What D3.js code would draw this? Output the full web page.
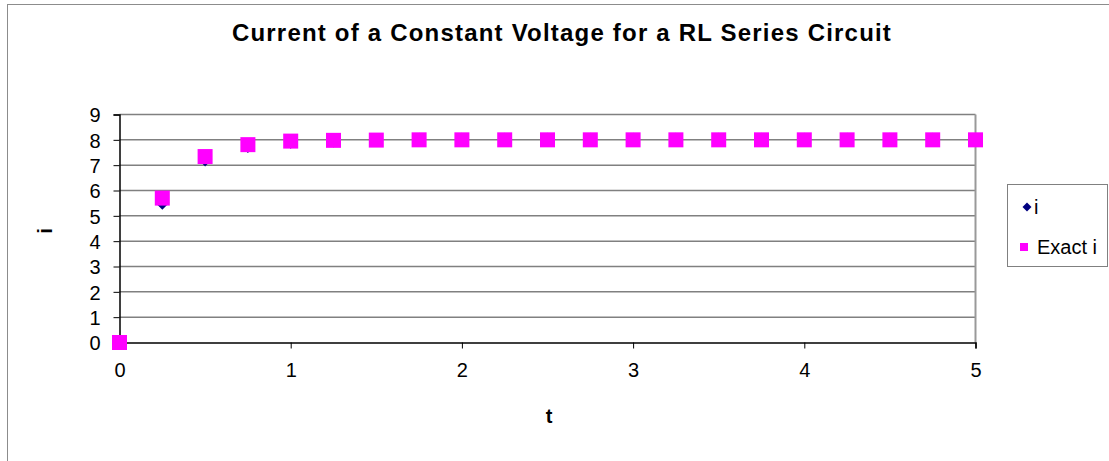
<!DOCTYPE html>
<html>
<head>
<meta charset="utf-8">
<script src="https://cdn.jsdelivr.net/npm/d3@7"></script>
<style>
  body { margin: 0; background: #fff; }
  text { font-family: "Liberation Sans", Arial, sans-serif; }
</style>
</head>
<body>
<script>
// data
const tValues = [0, 0.25, 0.5, 0.75, 1, 1.25, 1.5, 1.75, 2, 2.25, 2.5, 2.75, 3, 3.25, 3.5, 3.75, 4, 4.25, 4.5, 4.75, 5];
const iValues = [0, 5.52, 7.22, 7.76, 7.92, 7.97, 7.99, 8, 8, 8, 8, 8, 8, 8, 8, 8, 8, 8, 8, 8, 8];
const exactValues = [0, 5.7, 7.34, 7.81, 7.95, 7.98, 7.99, 8, 8, 8, 8, 8, 8, 8, 8, 8, 8, 8, 8, 8, 8];
const xTicks = [0, 1, 2, 3, 4, 5];
const yTicks = [0, 1, 2, 3, 4, 5, 6, 7, 8, 9];
const seriesNames = ["i", "Exact i"];

let width = 1109;
let height = 461;
let marginTop = 114.5;
let marginLeft = 119.5;
let chartWidth = 856;
let chartHeight = 228;

const svg = d3.select("body")
    .append("svg")
    .attr("width", width)
    .attr("height", height);

// outer chart border (cut off on the right and bottom)
svg.append("rect")
    .attr("x", 7.5).attr("y", 4.5)
    .attr("width", 1200).attr("height", 600)
    .attr("fill", "none").attr("stroke", "#8c8c8c");

svg.append("text")
    .attr("x", 562).attr("y", 41)
    .attr("text-anchor", "middle")
    .style("font-size", "24px").style("font-weight", "bold")
    .style("letter-spacing", "1.2px")
    .text("Current of a Constant Voltage for a RL Series Circuit");

const xScale = d3.scaleLinear().domain([0, 5]).range([0, chartWidth]);
const yScale = d3.scaleLinear().domain([0, 9]).range([chartHeight, 0]);

const g = svg.append("g")
    .attr("transform", "translate(" + marginLeft + "," + marginTop + ")");

// gridlines
g.selectAll(".grid")
    .data(yTicks.slice(1))
    .join("line")
    .attr("x1", 0).attr("x2", chartWidth)
    .attr("y1", d => yScale(d)).attr("y2", d => yScale(d))
    .attr("stroke", "#808080").attr("stroke-width", 1.5);

// right border of plot area
g.append("line")
    .attr("x1", chartWidth).attr("x2", chartWidth)
    .attr("y1", 0).attr("y2", chartHeight)
    .attr("stroke", "#999").attr("stroke-width", 2);

// axes
const yAxis = g.append("g")
    .call(d3.axisLeft(yScale).tickValues(yTicks).tickSize(6).tickPadding(13).tickFormat(d3.format("d")));
const xAxis = g.append("g")
    .attr("transform", "translate(0," + chartHeight + ")")
    .call(d3.axisBottom(xScale).tickValues(xTicks).tickSize(6).tickPadding(14).tickFormat(d3.format("d")));

[xAxis, yAxis].forEach(a => {
    a.select(".domain").attr("stroke", "#000").attr("stroke-width", 1.5);
    a.selectAll(".tick line").attr("stroke", "#000");
    a.selectAll(".tick text")
        .style("font-size", "20px")
        .style("font-family", "'Liberation Sans', Arial, sans-serif")
        .attr("fill", "#000");
});
yAxis.selectAll(".tick text").attr("dy", "0.36em");

// axis titles
svg.append("text")
    .attr("x", 549).attr("y", 423)
    .attr("text-anchor", "middle")
    .style("font-size", "20px").style("font-weight", "bold")
    .text("t");
svg.append("text")
    .attr("transform", "translate(52,231) rotate(-90)")
    .attr("text-anchor", "middle")
    .style("font-size", "20px").style("font-weight", "bold")
    .text("i");

// i series: navy diamonds
g.selectAll(".diamond")
    .data(tValues.map((t, k) => [t, iValues[k]]))
    .join("path")
    .attr("transform", d => "translate(" + xScale(d[0]) + "," + yScale(d[1]) + ")")
    .attr("d", "M0,-7L7,0L0,7L-7,0Z")
    .attr("fill", "#000080");

// exact series: magenta squares
const sq = 15;
g.selectAll(".square")
    .data(tValues.map((t, k) => [t, exactValues[k]]))
    .join("rect")
    .attr("x", d => xScale(d[0]) - sq / 2)
    .attr("y", d => yScale(d[1]) - sq / 2)
    .attr("width", sq).attr("height", sq)
    .attr("fill", "#ff00ff");

// legend
const legend = svg.append("g");
legend.append("rect")
    .attr("x", 1007.5).attr("y", 184.5)
    .attr("width", 100).attr("height", 82)
    .attr("fill", "#fff").attr("stroke", "#808080");
legend.append("path")
    .attr("transform", "translate(1027,207)")
    .attr("d", "M0,-4.5L4.5,0L0,4.5L-4.5,0Z")
    .attr("fill", "#000080");
legend.append("rect")
    .attr("x", 1020).attr("y", 243)
    .attr("width", 8).attr("height", 8)
    .attr("fill", "#ff00ff");
legend.selectAll(".ltext")
    .data(seriesNames)
    .join("text")
    .attr("x", (d, k) => k === 0 ? 1034 : 1037)
    .attr("y", (d, k) => k === 0 ? 214 : 254)
    .style("font-size", "20px")
    .text(d => d);
</script>
</body>
</html>
